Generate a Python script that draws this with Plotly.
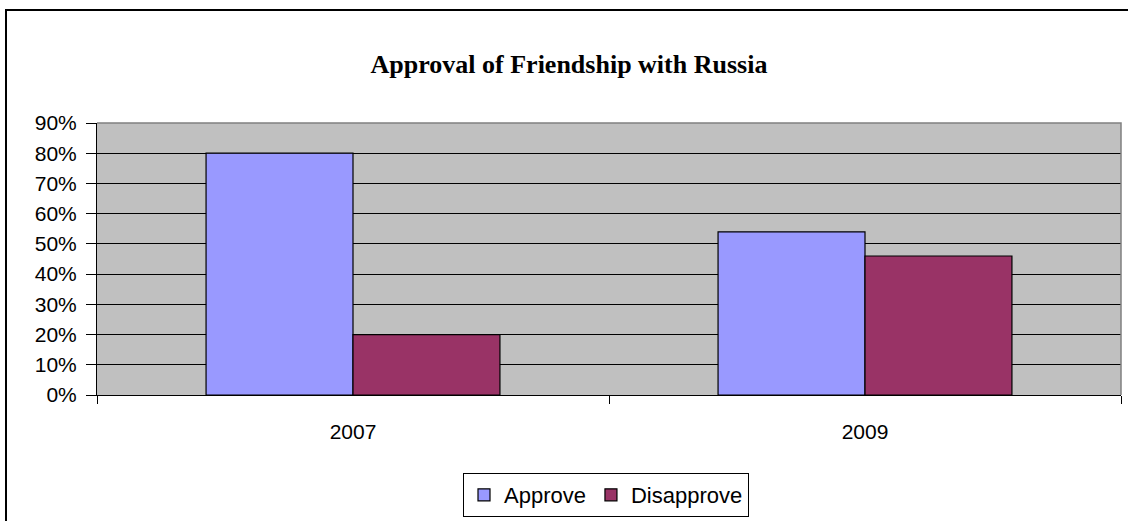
import plotly.graph_objects as go

years = ["2007", "2009"]
approve = [0.80, 0.54]
disapprove = [0.20, 0.46]
title_text = "Approval of Friendship with Russia"

W, H = 1128, 521
ML, MR, MT, MB = 97, 7, 123, 126
PW = W - ML - MR
PH = H - MT - MB

sans = "Liberation Sans, Arial, sans-serif"
serif = "Liberation Serif, Times New Roman, serif"

fig = go.Figure()
fig.add_trace(go.Bar(name="Approve", x=years, y=approve,
                     marker=dict(color="#9999FF", line=dict(color="black", width=1.2))))
fig.add_trace(go.Bar(name="Disapprove", x=years, y=disapprove,
                     marker=dict(color="#993366", line=dict(color="black", width=1.2))))

def px_x(p):
    return (p - ML) / PW

def px_y(p):
    return (H - MB - p) / PH

fig.update_layout(
    width=W, height=H,
    margin=dict(l=ML, r=MR, t=MT, b=MB, autoexpand=False),
    paper_bgcolor="white",
    plot_bgcolor="#C0C0C0",
    barmode="group",
    bargap=0.426,
    bargroupgap=0,
    showlegend=True,
    title=dict(text="<b>" + title_text + "</b>", font=dict(family=serif, size=26, color="black"),
               x=569 / W, xanchor="center", xref="container",
               y=1 - 64 / H, yanchor="middle", yref="container"),
    legend=dict(orientation="h", x=606 / W, xanchor="center", xref="container",
                y=1 - 473 / H, yanchor="top", yref="container",
                bordercolor="black", borderwidth=1, bgcolor="white",
                font=dict(family=sans, size=22, color="black"),
                itemwidth=30, tracegroupgap=0),
    xaxis=dict(showline=True, linecolor="black", linewidth=1,
               ticks="outside", ticklen=8, tickcolor="black", tickson="boundaries",
               tickfont=dict(family=sans, size=21, color="black"),
               ticklabelstandoff=18, showgrid=False),
    yaxis=dict(range=[0, 0.9], dtick=0.1, tickformat=".0%",
               showline=True, linecolor="black", linewidth=1,
               ticks="outside", ticklen=10, tickcolor="black",
               tickfont=dict(family=sans, size=21, color="black"),
               ticklabelstandoff=5,
               showgrid=True, gridcolor="black", gridwidth=1.2, zeroline=False),
    shapes=[
        dict(type="path", xref="paper", yref="paper",
             path="M 0,1 L 1,1 L 1,0", line=dict(color="#808080", width=1.5), layer="above"),
        dict(type="rect", xref="paper", yref="paper",
             x0=px_x(6), x1=px_x(W + 50), y0=px_y(H + 50), y1=px_y(10),
             line=dict(color="black", width=2), fillcolor="rgba(0,0,0,0)", layer="above"),
    ],
)

fig.write_html("out.html")
